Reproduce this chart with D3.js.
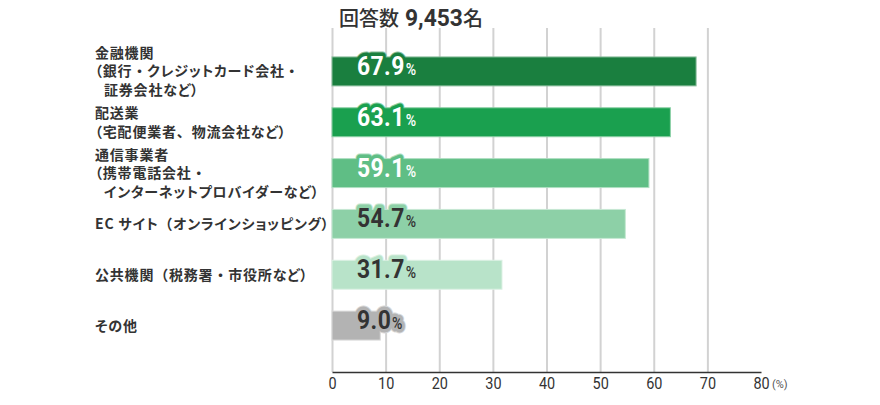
<!DOCTYPE html>
<html>
<head>
<meta charset="utf-8">
<script src="https://cdn.jsdelivr.net/npm/d3@7"></script>
<style>
  body { margin: 0; background: #fff; }
  .jp { font-family: "Noto Sans CJK JP", sans-serif; }
  .palt { font-feature-settings: "palt"; }
  .full { font-feature-settings: normal; }
  .num { font-family: Roboto, sans-serif; }
</style>
</head>
<body>
<script>
const categories = [
  "金融機関\n（銀行・クレジットカード会社・\n　証券会社など）",
  "配送業\n（宅配便業者、物流会社など）",
  "通信事業者\n（携帯電話会社・\n　インターネットプロバイダーなど）",
  "EC サイト（オンラインショッピング）",
  "公共機関（税務署・市役所など）",
  "その他"
];
const values = [67.9, 63.1, 59.1, 54.7, 31.7, 9.0];
const xTicks = [0, 10, 20, 30, 40, 50, 60, 70, 80];
const respondents = "9,453";

const barColors = ["#1a7f3f", "#1aa04f", "#5fbe85", "#8dd0a7", "#b8e3c9", "#b3b3b3"];
const labelColors = ["#fff", "#fff", "#fff", "#333", "#333", "#333"];

const width = 880, height = 405;

const svg = d3.select("body").append("svg")
    .attr("width", width)
    .attr("height", height);

const x = d3.scaleLinear().domain([0, 80]).range([332, 761]);
const y = d3.scaleBand()
    .domain(d3.range(categories.length))
    .range([46, 351])
    .paddingInner(0.43)
    .paddingOuter(0.215);
const axisY = 372;
const rim = i => d3.interpolateRgb(barColors[i], "#fff")(0.5);

// Title
svg.append("text")
    .attr("class", "jp")
    .attr("x", 339)
    .attr("y", 26)
    .attr("fill", "#333")
    .style("font-size", "20px")
    .style("font-weight", 500)
    .text("回答数");
svg.append("text")
    .attr("class", "num")
    .attr("transform", "translate(405, 26) scale(0.95, 1)")
    .attr("fill", "#333")
    .style("font-size", "24px")
    .style("font-weight", "bold")
    .text(respondents);
svg.append("text")
    .attr("class", "jp")
    .attr("x", 463)
    .attr("y", 26)
    .attr("fill", "#333")
    .style("font-size", "20px")
    .style("font-weight", 500)
    .text("名");

// Grid
svg.append("g")
    .attr("transform", `translate(0, ${axisY})`)
    .call(d3.axisBottom(x).tickValues(xTicks.slice(0, -1)).tickSize(-(axisY - 28)).tickFormat(""))
    .call(g => g.select(".domain").remove())
    .call(g => g.selectAll("line").attr("stroke", "#d2d2d2").attr("stroke-width", 2));

// value label helper
function valueLabels(fill, stroke, w) {
  const lbl = svg.append("g")
    .selectAll("text")
    .data(values)
    .enter()
    .append("text")
      .attr("transform", (d, i) => `translate(${x(0) + 25}, ${y(i) + y.bandwidth() / 2 + 3.5}) scale(0.88, 1)`)
      .attr("fill", fill)
      .attr("stroke", stroke)
      .attr("stroke-width", w)
      .attr("stroke-linejoin", "round");
  lbl.append("tspan")
      .attr("class", "num")
      .style("font-size", "26px")
      .style("font-weight", "bold")
      .style("letter-spacing", "0.5px")
      .text(d => d.toFixed(1));
  lbl.append("tspan")
      .attr("class", "num")
      .attr("dx", 1)
      .style("font-size", "16px")
      .style("font-weight", 500)
      .text("%");
}

// halo rim (behind bars)
valueLabels((d, i) => rim(i), (d, i) => rim(i), 9);

// Bars
svg.append("g")
  .selectAll("rect")
  .data(values)
  .enter()
  .append("rect")
    .attr("x", x(0))
    .attr("y", (d, i) => y(i))
    .attr("width", d => x(d) - x(0))
    .attr("height", y.bandwidth())
    .attr("fill", (d, i) => barColors[i])
    .attr("stroke", (d, i) => rim(i))
    .attr("stroke-width", 1);

// halo and text
valueLabels((d, i) => barColors[i], (d, i) => barColors[i], 7);
valueLabels((d, i) => labelColors[i], "none", 0);

// X axis
svg.append("g")
    .attr("transform", `translate(0, ${axisY})`)
    .call(d3.axisBottom(x).tickValues(xTicks).tickSize(0).tickSizeOuter(0))
    .call(g => g.select(".domain").attr("stroke", "#333").attr("stroke-width", 1.5))
    .call(g => g.selectAll(".tick text")
        .attr("class", "num")
        .attr("y", 0).attr("dy", 0)
        .attr("transform", "translate(0, 17) scale(0.85, 1)")
        .attr("fill", "#333")
        .style("font-size", "17px"));

svg.append("text")
    .attr("class", "num")
    .attr("x", 772)
    .attr("y", axisY + 16)
    .attr("fill", "#555")
    .style("font-size", "11px")
    .text("(%)");

// Category labels: proportional kana, full-width punctuation except a line-start paren
const lineH = 18.5;
categories.forEach((c, i) => {
  const lines = c.split("\n");
  const cy = y(i) + y.bandwidth() / 2;
  const t = svg.append("text")
      .attr("class", "jp")
      .attr("fill", "#333")
      .style("font-size", "14px")
      .style("font-weight", "bold")
      .style("letter-spacing", "0.8px");
  lines.forEach((ln, j) => {
    let dx = 0, txt = ln;
    if (ln.startsWith("　")) { txt = ln.slice(1); dx = 9; }
    let head = "";
    if (txt.startsWith("（")) { head = "（"; txt = txt.slice(1); }
    const runs = (head ? [head] : []).concat(txt.match(/[・、（]+|[^・、（]+/g));
    runs.forEach((r, k) => {
      const full = !(head && k === 0) && /[・、（]/.test(r);
      const s = t.append("tspan")
          .attr("class", full ? "full" : "palt")
          .text(r);
      if (k === 0) {
        s.attr("x", 95 + dx)
         .attr("y", cy + (j - (lines.length - 1) / 2) * lineH + 5);
      }
    });
  });
});
</script>
</body>
</html>
